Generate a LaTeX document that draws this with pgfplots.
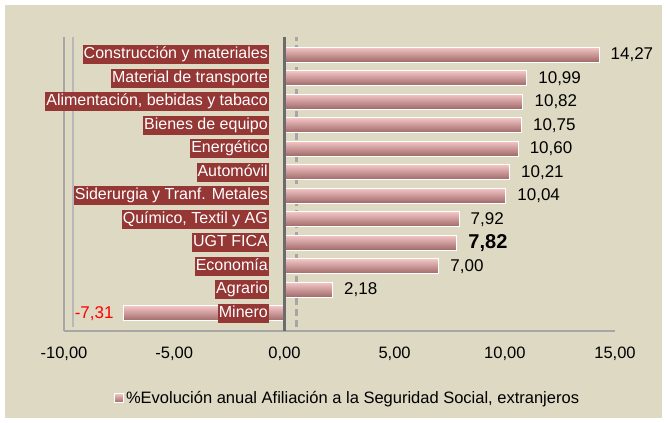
\documentclass[border=0pt]{standalone}
\usepackage{pgfplots}
\pgfplotsset{compat=1.18}
\usepackage{fontspec}
\setmainfont{Liberation Sans}
\usetikzlibrary{backgrounds,calc}
\definecolor{bg}{HTML}{DDD9C3}
\definecolor{lab}{HTML}{953735}
\definecolor{barmid}{HTML}{F0A3A3}
\definecolor{bartop}{HTML}{F4C6C6}
\definecolor{barbot}{HTML}{9E6767}
\definecolor{wall}{HTML}{A6A6A6}
\pgfplotsset{mybar/.style={xbar, bar width=15pt, bar shift=0pt, draw=white, line width=0.8pt, top color=bartop, middle color=barmid, bottom color=barbot}}
\begin{document}
\begin{tikzpicture}
\begin{axis}[name=ax, scale only axis, width=551pt, height=294pt,
  xbar, point meta=x,
  xmin=-10, xmax=15, ymin=-0.75, ymax=11.75, y dir=reverse,
  xtick={-10,-5,0,5,10,15}, ytick={0,1,2,3,4,5,6,7,8,9,10,11},
  yticklabels={Construcción y materiales, Material de transporte, {Alimentación, bebidas y tabaco}, Bienes de equipo, Energético, Automóvil, Siderurgia y Tranf. Metales, {Químico, Textil y AG}, UGT FICA, Economía, Agrario, Minero},
  axis on top,
  axis lines*=left,
  axis line style={draw=wall, line width=2.5pt},
  major tick length=0pt,
  /pgf/number format/.cd, use comma, fixed, fixed zerofill, precision=2, assume math mode=true,
  /pgfplots/.cd,
  xticklabel style={font=\fontsize{16.5}{18}\selectfont, text=black, yshift=-12pt},
  yticklabel style={font=\fontsize{16}{18}\selectfont, fill=lab, text=white, inner xsep=1pt, inner ysep=2pt, text height=11.5pt, text depth=3.5pt, anchor=east, xshift=205pt},
  extra x ticks={0}, extra x tick labels={},
  extra x tick style={grid=major, major grid style={draw=gray!85!black, line width=3pt}},
  nodes near coords,
  nodes near coords style={font=\fontsize{17}{18}\selectfont, text=black, xshift=8pt},
  legend style={at={(0.515,-0.228)}, anchor=center, draw=none, fill=none, font=\fontsize{16.5}{18}\selectfont},
  legend image code/.code={\fill[barmid, draw=white, line width=0.6pt] (0pt,-4.5pt) rectangle (9pt,4.5pt);},
]
\draw[draw=wall!80!white, line width=2.5pt] (axis cs:-9.6,11.6) -- (axis cs:-9.6,-0.75);
\draw[draw=wall, line width=2.5pt, dash pattern=on 7pt off 4pt] (axis cs:0.55,11.6) -- (axis cs:0.55,-0.75);
\addplot[mybar] coordinates {(14.27,0)};
\addlegendentry{\%Evolución anual Afiliación a la Seguridad Social, extranjeros}
\addplot[mybar, forget plot] coordinates {(10.99,1)};
\addplot[mybar, forget plot] coordinates {(10.82,2)};
\addplot[mybar, forget plot] coordinates {(10.75,3)};
\addplot[mybar, forget plot] coordinates {(10.60,4)};
\addplot[mybar, forget plot] coordinates {(10.21,5)};
\addplot[mybar, forget plot] coordinates {(10.04,6)};
\addplot[mybar, forget plot] coordinates {(7.92,7)};
\addplot[mybar, forget plot, nodes near coords style={font=\fontsize{20}{22}\bfseries\selectfont}] coordinates {(7.82,8)};
\addplot[mybar, forget plot] coordinates {(7.00,9)};
\addplot[mybar, forget plot] coordinates {(2.18,10)};
\addplot[mybar, forget plot, nodes near coords style={text=red, xshift=-14pt}] coordinates {(-7.31,11)};
\end{axis}
\begin{scope}[on background layer]
\fill[white] ($(ax.south west)+(-64pt,-92pt)$) rectangle ($(ax.north east)+(52pt,37pt)$);
\fill[bg] ($(ax.south west)+(-59pt,-87pt)$) rectangle ($(ax.north east)+(47pt,32pt)$);
\end{scope}
\pgfresetboundingbox
\path[use as bounding box] ($(ax.south west)+(-64pt,-92pt)$) rectangle ($(ax.north east)+(52pt,37pt)$);
\end{tikzpicture}
\end{document}
